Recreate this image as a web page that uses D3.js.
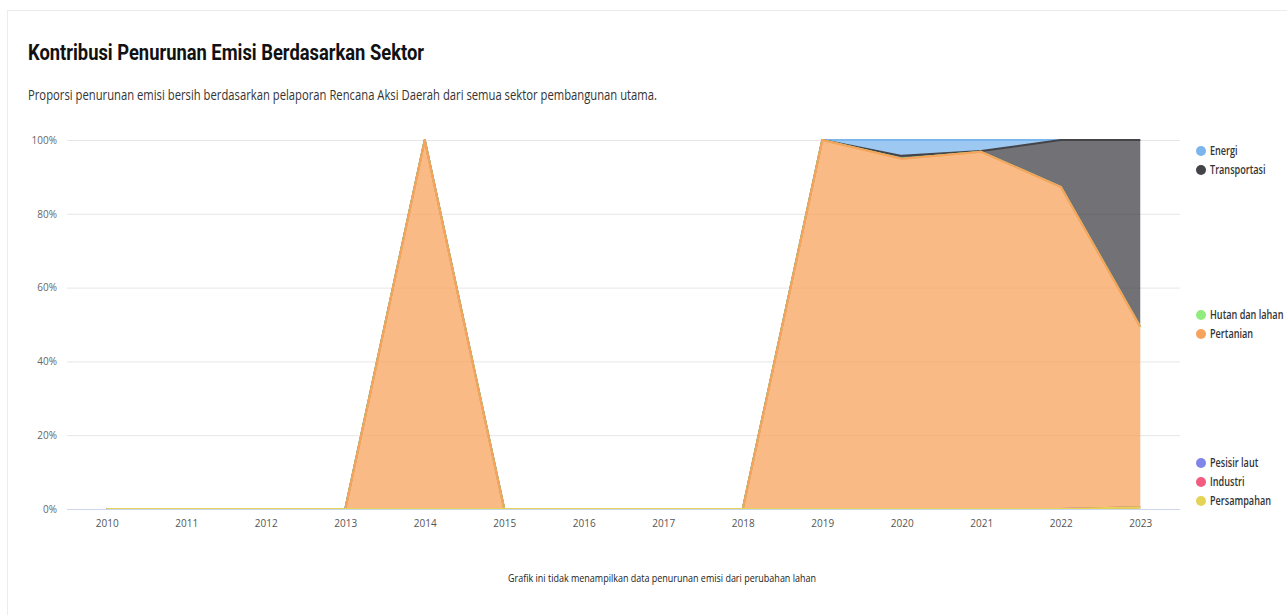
<!DOCTYPE html>
<html>
<head>
<meta charset="utf-8">
<script src="https://cdn.jsdelivr.net/npm/d3@7"></script>
<style>
  html, body { margin: 0; padding: 0; background: #fff; }
  svg { display: block; }
</style>
</head>
<body>
<svg id="chart" width="1287" height="615"></svg>
<script>
// Years on the x axis
const years = [2010, 2011, 2012, 2013, 2014, 2015, 2016, 2017, 2018, 2019, 2020, 2021, 2022, 2023];

// Sector names, in legend order (first = top of the stack)
const sectors = ["Energi", "Transportasi", "Hutan dan lahan", "Pertanian", "Pesisir laut", "Industri", "Persampahan"];
const sectorColors = ["#7cb5ec", "#434348", "#90ed7d", "#f7a35c", "#8085e9", "#f15c80", "#e4d354"];

// Share of net emission reduction per sector (percent of the year's total)
const energi        = [0, 0, 0, 0, 0,   0, 0, 0, 0, 0,   4.3, 3.0, 0,    0];
const transportasi  = [0, 0, 0, 0, 0,   0, 0, 0, 0, 0,   0.8, 0.2, 12.7, 50.6];
const hutanDanLahan = [0, 0, 0, 0, 0,   0, 0, 0, 0, 0,   0,   0,   0,    0];
const pertanian     = [0, 0, 0, 0, 100, 0, 0, 0, 0, 100, 94.9, 96.8, 87.3, 48.9];
const pesisirLaut   = [0, 0, 0, 0, 0,   0, 0, 0, 0, 0,   0,   0,   0,    0];
const industri      = [0, 0, 0, 0, 0,   0, 0, 0, 0, 0,   0,   0,   0,    0];
const persampahan   = [0, 0, 0, 0, 0,   0, 0, 0, 0, 0,   0,   0,   0,    0.5];

const yTicks = [0, 20, 40, 60, 80, 100];

const seriesValues = [energi, transportasi, hutanDanLahan, pertanian, pesisirLaut, industri, persampahan];

// Table: one row per year, one column per sector
const table = years.map((yr, i) => {
  const row = { year: yr };
  sectors.forEach((s, k) => { row[s] = seriesValues[k][i]; });
  return row;
});

const svg = d3.select("#chart");
const W = 1287, H = 615;

// Card frame
svg.append("rect")
  .attr("x", 7.5).attr("y", 10.5)
  .attr("width", W + 10).attr("height", H)
  .attr("fill", "#fff").attr("stroke", "#ececec");

// Title and subtitle
svg.append("text")
  .attr("x", 28).attr("y", 60)
  .attr("font-family", "Roboto, 'Noto Sans', sans-serif")
  .attr("font-weight", 700).attr("font-size", 22)
  .attr("fill", "#111")
  .attr("textLength", 396).attr("lengthAdjust", "spacingAndGlyphs")
  .text("Kontribusi Penurunan Emisi Berdasarkan Sektor");

svg.append("text")
  .attr("x", 28).attr("y", 100)
  .attr("font-family", "'Open Sans', 'Noto Sans', sans-serif")
  .attr("font-size", 14.5)
  .attr("fill", "#333")
  .attr("textLength", 629).attr("lengthAdjust", "spacingAndGlyphs")
  .text("Proporsi penurunan emisi bersih berdasarkan pelaporan Rencana Aksi Daerah dari semua sektor pembangunan utama.");

// Plot area
const plot = { left: 67, right: 1180, top: 140, bottom: 509 };

const x = d3.scalePoint()
  .domain(years)
  .range([plot.left, plot.right])
  .padding(0.5);

const y = d3.scaleLinear()
  .domain([0, 100])
  .range([plot.bottom, plot.top]);

// Grid lines
const grid = svg.append("g");
grid.selectAll("line")
  .data(yTicks.filter(t => t > 0))
  .join("line")
  .attr("x1", plot.left).attr("x2", plot.right)
  .attr("y1", d => y(d) + 0.5).attr("y2", d => y(d) + 0.5)
  .attr("stroke", "#e6e6e6").attr("stroke-width", 1);

// Y axis labels
const yAxis = d3.axisLeft(y)
  .tickValues(yTicks)
  .tickFormat(d => d + "%")
  .tickSize(0)
  .tickPadding(10);
svg.append("g")
  .attr("transform", `translate(${plot.left},0)`)
  .call(yAxis)
  .call(g => g.select(".domain").remove())
  .call(g => g.selectAll("text")
    .attr("font-family", "'Open Sans', 'Noto Sans', sans-serif")
    .attr("font-size", 10)
    .attr("fill", "#666"));

// Stacked areas: bottom of the stack is the last sector
const stackKeys = sectors.slice().reverse();
const stacked = d3.stack().keys(stackKeys)(table);
const byKey = {};
stacked.forEach(layer => { byKey[layer.key] = layer; });

const area = d3.area()
  .x(d => x(d.data.year))
  .y0(d => y(d[0]))
  .y1(d => y(d[1]));

const line = d3.line()
  .x(d => x(d.data.year))
  .y(d => y(d[1]));

const areas = svg.append("g");
// Draw in legend order so later series sit above earlier ones
sectors.forEach((s, k) => {
  const layer = byKey[s];
  const g = areas.append("g");
  g.append("path")
    .datum(layer)
    .attr("d", area)
    .attr("fill", sectorColors[k])
    .attr("fill-opacity", 0.75);
  g.append("path")
    .datum(layer)
    .attr("d", line)
    .attr("fill", "none")
    .attr("stroke", sectorColors[k])
    .attr("stroke-width", 2)
    .attr("stroke-linejoin", "round");
});

// X axis
const xAxis = d3.axisBottom(x).tickSize(0).tickPadding(10);
svg.append("g")
  .attr("transform", `translate(0,${plot.bottom + 0.5})`)
  .call(xAxis)
  .call(g => g.select(".domain")
    .attr("d", `M${plot.left},0H${plot.right}`)
    .attr("stroke", "#ccd6eb"))
  .call(g => g.selectAll("text")
    .attr("font-family", "'Open Sans', 'Noto Sans', sans-serif")
    .attr("font-size", 10)
    .attr("fill", "#555"));

// Legend, grouped beside the plot; labels set in a narrow face
const legendY = [151, 170, 315, 334, 463, 482, 501];
const legend = svg.append("g");
sectors.forEach((s, k) => {
  const g = legend.append("g").attr("transform", `translate(1201,${legendY[k]})`);
  g.append("circle").attr("r", 5).attr("fill", sectorColors[k]);
  g.append("g")
    .attr("transform", "translate(9,0) scale(0.76,1)")
    .append("text")
    .attr("dy", "0.35em")
    .attr("font-family", "'Open Sans', 'Noto Sans', sans-serif")
    .attr("font-size", 12).attr("font-weight", 600)
    .attr("fill", "#333")
    .text(s);
});

// Footnote
svg.append("text")
  .attr("x", 662).attr("y", 582)
  .attr("text-anchor", "middle")
  .attr("font-family", "'Open Sans', 'Noto Sans', sans-serif")
  .attr("font-size", 10.5)
  .attr("fill", "#222")
  .attr("textLength", 308).attr("lengthAdjust", "spacingAndGlyphs")
  .text("Grafik ini tidak menampilkan data penurunan emisi dari perubahan lahan");
</script>
</body>
</html>
